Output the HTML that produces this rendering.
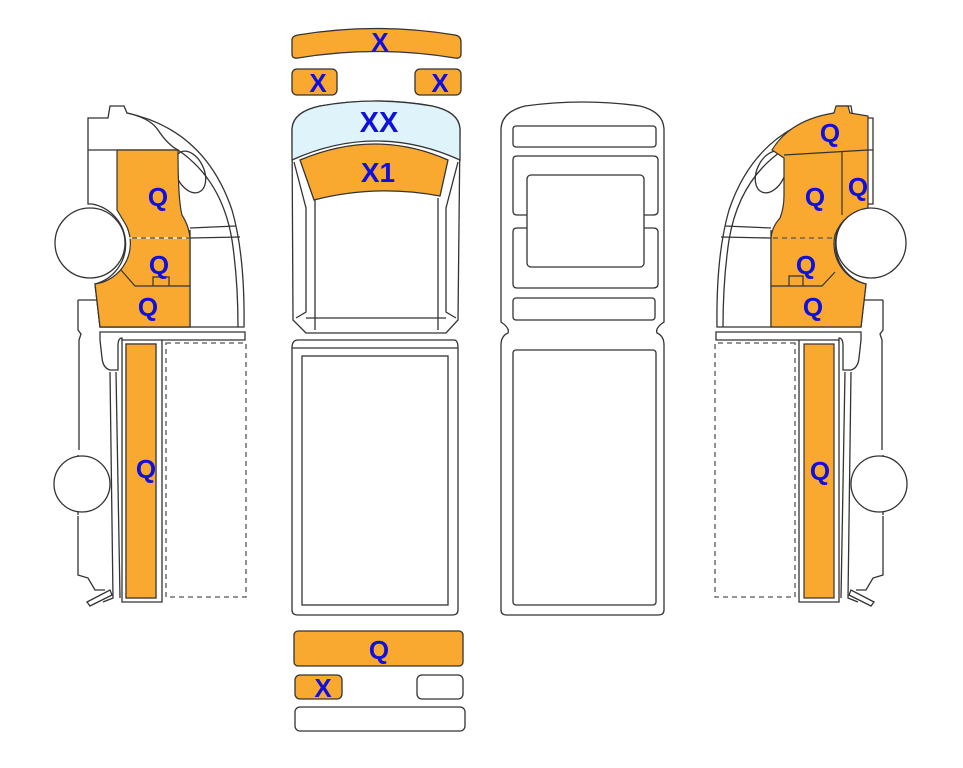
<!DOCTYPE html>
<html><head><meta charset="utf-8"><style>
html,body{margin:0;padding:0;background:#fff;}
svg{display:block}
text{font-family:"Liberation Sans",Arial,sans-serif;font-weight:bold;fill:#1010dd;text-anchor:middle}
</style></head><body>
<svg width="963" height="768" viewBox="0 0 963 768" xmlns="http://www.w3.org/2000/svg">
<defs>
<g id="side" fill="none" stroke="#333" stroke-width="1.3">
  <!-- cab outline -->
  <path d="M100,327 L95,284 A41,41 0 0 0 92,204 L88,204 L88,118 L108,118 L110,106 L124,106 L127,113 Q205,130 232,210 Q245,255 244,327 Z" fill="#fff"/>
  <path d="M88,150 L178,150"/>
  <path d="M127,113 Q150,118 158,130 Q168,145 178,150 Q222,180 232,240 Q238,280 238,327"/>
  <ellipse cx="190" cy="172" rx="14" ry="22" transform="rotate(-25 190 172)"/>
  <path d="M190,228 L236,226 M190,238 L240,237"/>
  <path d="M190,230 L190,327"/>
  <circle cx="90" cy="243" r="35" fill="#fff"/>
  <!-- chassis -->
  <path d="M100,332 L245,332 L245,340 L122,340 L122,338 Q118,338 118,346 L118,370 L110,370 Q103,368 102,358 L100,340 Z" fill="#fff"/>
  <path d="M78,300 L100,300 M78,300 L78,330 L81,334 L79,340 L79,450 M78,455 L78,515 M78,516 L78,575 L88,578 L95,590 L105,590"/>
  <circle cx="82" cy="484" r="28" fill="#fff"/>
  <path d="M110,372 L113,598 L103,602 M116,372 L120,598"/>
  <path d="M122,340 L122,602 L162,602 L162,340"/>
  <path d="M87,602 L110,590 L112,595 L90,606 Z"/>
  <rect x="166" y="343" width="80" height="254" stroke="#555" stroke-dasharray="5,4"/>
</g>
</defs>

<!-- left side orange -->
<path d="M117,150 L178,150 L178,200 Q178,210 185,220 Q190,230 190,240 L190,327 L100,327 L95,284 A41,41 0 0 0 126,230 L117,212 Z" fill="#f9a830" stroke="#333" stroke-width="1.2"/>
<rect x="126" y="344" width="30" height="254" fill="#f9a830" stroke="#333" stroke-width="1.2"/>
<use href="#side"/>
<!-- overdraw orange inside left cab again (outline group has white fill) -->
<path d="M117,150 L178,150 Q178,200 182,215 Q190,228 190,240 L190,327 L100,327 L95,284 A41,41 0 0 0 126,225 L117,210 Z" fill="#f9a830" stroke="#333" stroke-width="1.2"/>
<path d="M128,238 L190,238" stroke="#fff" stroke-width="1.3" stroke-dasharray="5,4"/>
<path d="M128,238 L190,238" stroke="#555" stroke-width="1.3" stroke-dasharray="5,4" stroke-dashoffset="5"/>
<path d="M121,270 L135,286 L190,286 M153,286 L153,277 L169,277 L169,286" fill="none" stroke="#333" stroke-width="1.2"/>
<rect x="126" y="344" width="30" height="254" fill="#f9a830" stroke="#333" stroke-width="1.2"/>
<text x="158" y="206" font-size="26">Q</text>
<text x="159" y="274" font-size="26">Q</text>
<text x="148" y="316" font-size="26">Q</text>
<text x="146" y="478" font-size="26">Q</text>

<!-- right side (mirror) -->
<g transform="translate(961,0) scale(-1,1)"><use href="#side"/></g>
<path d="M772,150 Q790,120 834,113 L836,106 L848,106 L850,113 L868,116 L868,208 A41,41 0 0 0 835,235 A41,41 0 0 0 866,284 L861,327 L771,327 L771,240 Q771,228 780,218 Q784,208 784,195 L784,158 Z" fill="#f9a830" stroke="#333" stroke-width="1.2"/>
<path d="M784,155 L868,150 M842,152 L842,215" fill="none" stroke="#333" stroke-width="1.2"/>
<path d="M773,238 L832,238" stroke="#555" stroke-width="1.3" stroke-dasharray="5,4"/>
<path d="M771,286 L822,286 L835,272 M789,286 L789,276 L803,276 L803,286" fill="none" stroke="#333" stroke-width="1.2"/>
<rect x="804" y="344" width="30" height="254" fill="#f9a830" stroke="#333" stroke-width="1.2"/>
<text x="830" y="142" font-size="26">Q</text>
<text x="815" y="206" font-size="26">Q</text>
<text x="858" y="196" font-size="26">Q</text>
<text x="806" y="274" font-size="26">Q</text>
<text x="813" y="316" font-size="26">Q</text>
<text x="820" y="480" font-size="26">Q</text>

<!-- middle top view -->
<g stroke="#333" stroke-width="1.3">
  <path d="M292,40 Q292,36 298,35 Q376,22 455,35 Q461,36 461,42 L461,54 Q461,59 455,58 Q376,45 298,58 Q292,59 292,54 Z" fill="#f9a830"/>
  <rect x="292" y="69" width="45" height="26" rx="5" fill="#f9a830"/>
  <rect x="415" y="69" width="46" height="26" rx="5" fill="#f9a830"/>
  <!-- cab -->
  <path d="M292,130 Q292,112 320,106 Q376,96 432,106 Q460,112 460,130 L458,320 L446,333 L306,333 L293,320 Z" fill="#fff"/>
  <path d="M292,160 L292,130 Q292,112 320,106 Q376,96 432,106 Q460,112 460,130 L460,160 Q376,122 292,160 Z" fill="#dff3fa"/>
  <path d="M300,160 Q376,128 448,160 L440,196 Q376,184 314,200 Z" fill="#f9a830"/>
  <path d="M294,162 L306,208 L306,312 L296,318 M458,162 L446,208 L446,312 L456,318 M315,200 L315,330 M438,198 L438,330 M306,318 L446,318" fill="none"/>
  <!-- box -->
  <path d="M298,340 L454,340 Q458,340 458,348 L458,610 Q458,615 452,615 L298,615 Q292,615 292,610 L292,348 Q292,340 298,340 Z" fill="#fff"/>
  <path d="M292,348 L458,348" fill="none"/>
  <rect x="302" y="356" width="146" height="249" fill="none"/>
  <!-- bottom -->
  <rect x="294" y="631" width="169" height="35" rx="4" fill="#f9a830"/>
  <rect x="295" y="675" width="47" height="24" rx="5" fill="#f9a830"/>
  <rect x="417" y="675" width="46" height="24" rx="5" fill="#fff"/>
  <rect x="295" y="707" width="170" height="24" rx="5" fill="#fff"/>
  <!-- rear view -->
  <path d="M501,130 Q501,112 525,106 Q583,98 640,106 Q664,112 664,130 L664,322 Q655,328 657,333 Q664,336 664,345 L664,610 Q664,615 658,615 L507,615 Q501,615 501,610 L501,345 Q501,336 508,333 Q510,328 501,322 Z" fill="#fff"/>
  <rect x="513" y="126" width="143" height="21" rx="3" fill="none"/>
  <path d="M517,156 L653,156 Q658,156 658,160 L658,211 Q658,215 653,215 L644,215 M527,215 L517,215 Q513,215 513,211 L513,160 Q513,156 517,156 M517,228 L527,228 M644,228 L653,228 Q658,228 658,232 L658,284 Q658,288 653,288 L517,288 Q513,288 513,284 L513,232 Q513,228 517,228" fill="none"/>
  <rect x="527" y="175" width="117" height="92" rx="4" fill="none"/>
  <rect x="513" y="298" width="142" height="22" rx="3" fill="none"/>
  <rect x="513" y="350" width="143" height="255" rx="3" fill="none"/>
</g>
<text x="380" y="51" font-size="26">X</text>
<text x="318" y="92" font-size="26">X</text>
<text x="440" y="92" font-size="26">X</text>
<text x="379" y="132" font-size="29">XX</text>
<text x="378" y="182" font-size="28">X1</text>
<text x="379" y="659" font-size="26">Q</text>
<text x="323" y="697" font-size="26">X</text>
</svg>
</body></html>
